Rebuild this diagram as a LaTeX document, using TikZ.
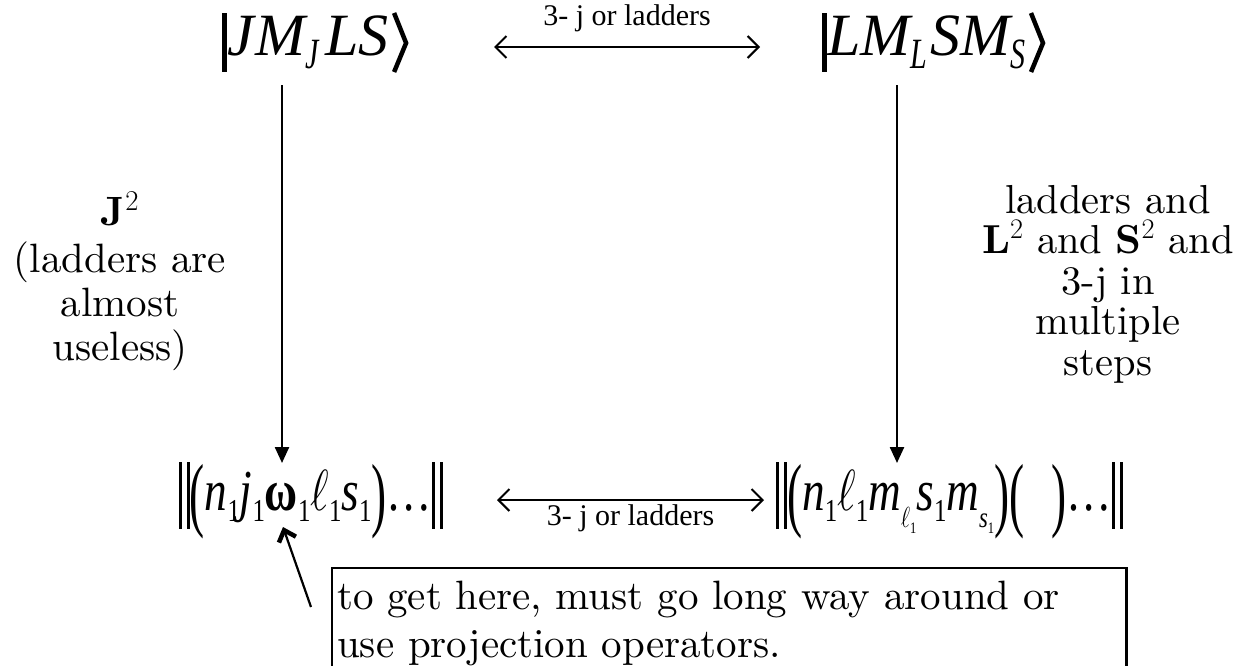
\RequirePackage{fix-cm}
\documentclass[tikz,border=0pt]{standalone}
\usepackage{fontspec}
\usepackage{graphicx}
\usetikzlibrary{arrows.meta}
\setmainfont{lmroman10-regular}[Extension=.otf, BoldFont=lmroman10-bold]
\newfontfamily\tms{Liberation Serif}
\newcommand\kbar{\rule[-0.28em]{5pt}{0.98em}}
\newcommand\tsub[1]{\raisebox{-0.22em}{\scalebox{0.5}[0.72]{#1}}}
\newcommand\dbar{\rule[-0.32em]{4pt}{1.15em}\kern6pt\rule[-0.32em]{4pt}{1.15em}}
\newcommand\bigp[1]{\raisebox{-0.2em}{\scalebox{1}[1.42]{\upshape #1}}}
\newcommand\bsub[1]{\raisebox{-0.2em}{\scalebox{0.55}{\upshape #1}}}
\newcommand\ssub[1]{\raisebox{-0.3em}{\scalebox{0.5}{#1}}}
\begin{document}
\begin{tikzpicture}[x=1pt,y=-1pt,
  ket/.style={inner sep=0pt, font={\tms\itshape\fontsize{60}{60}\selectfont}},
  bra/.style={inner sep=0pt, font={\tms\itshape\fontsize{58}{58}\selectfont}},
  lbl/.style={inner sep=0pt, font={\tms\fontsize{30}{30}\selectfont}},
  lab/.style={align=center, inner sep=0pt, font={\fontsize{41}{44}\selectfont}},
  lr/.style={line width=2.5pt, {Straight Barb[length=11pt,width=22pt,line width=2pt]}-{Straight Barb[length=11pt,width=22pt,line width=2pt]}},
  va/.style={line width=2.4pt, -{Triangle[length=16pt,width=14pt]}},
  ann/.style={line width=2.2pt, -{Straight Barb[length=10pt,width=18pt,line width=4.5pt]}},
  angl/.style={line width=4.5pt, line join=miter, line cap=butt},
  notetext/.style={anchor=north west, text width=784pt, inner xsep=5pt, inner ysep=13pt, align=left, font={\fontsize{41}{48}\selectfont}},
  boxline/.style={line width=2.2pt}
]
\useasboundingbox (0,0) rectangle (1243,665);
\node[ket, anchor=base west] (tl) at (222,55) {\kbar J\kern0.02em M\tsub{J}\kern0.12em LS};
\node[ket, anchor=base west] (tr) at (822,55) {\kbar LM\tsub{L}\kern0.06em SM\tsub{S}};
\draw[angl] ([xshift=5pt,yshift=42pt]tl.base east) -- ([xshift=17pt,yshift=12pt]tl.base east) -- ([xshift=5pt,yshift=-17pt]tl.base east);
\draw[angl] ([xshift=5pt,yshift=42pt]tr.base east) -- ([xshift=17pt,yshift=12pt]tr.base east) -- ([xshift=5pt,yshift=-17pt]tr.base east);
\node[bra, anchor=base east] (bl) at (443,510) {\scalebox{0.78}[1]{\dbar\bigp{(}n\bsub{1}j\bsub{1}{\upshape\bfseries ω}\bsub{1}$\ell$\bsub{1}s\bsub{1}\bigp{)}\upshape\dots\dbar}};
\node[bra, anchor=base west] (br) at (776,510) {\scalebox{0.78}[1]{\dbar\bigp{(}n\bsub{1}$\ell$\bsub{1}m\ssub{$\ell$\bsub{1}}s\bsub{1}m\ssub{\itshape s\bsub{1}}\bigp{)}\bigp{(}\hspace{0.6em}\bigp{)}\upshape\dots\dbar}};
\coordinate (ta1) at (494,47); \coordinate (ta2) at (760,47);
\draw[lr] (ta1) -- node[lbl, above=14pt]{3- j or ladders} (ta2);
\coordinate (ba1) at (497,500); \coordinate (ba2) at (764,500);
\draw[lr] (ba1) -- node[lbl, below=3pt]{3- j or ladders} (ba2);
\coordinate (la1) at (282,85); \coordinate (la2) at (282,463);
\draw[va] (la1) -- (la2);
\coordinate (ra1) at (897,85); \coordinate (ra2) at (897,463);
\draw[va] (ra1) -- (ra2);
\node[lab] (ll) at (120,281) {\textbf{J}$^2$\\[3pt](ladders are\\almost\\useless)};
\node[lab, font={\fontsize{40.5}{40.5}\selectfont}] (rl) at (1108,284) {ladders and\\\textbf{L}$^2$ and \textbf{S}$^2$ and\\3-j in\\multiple\\steps};
\node[notetext] (note) at (332,568) {to get here, must go long way around or\\use projection operators.};
\draw[boxline] ([yshift=-40pt]note.south west) -- (note.north west) -- (note.north east) -- ([yshift=-40pt]note.south east);
\coordinate (an1) at (311,607); \coordinate (an2) at (283,527);
\draw[ann] (an1) -- (an2);
\end{tikzpicture}
\end{document}
